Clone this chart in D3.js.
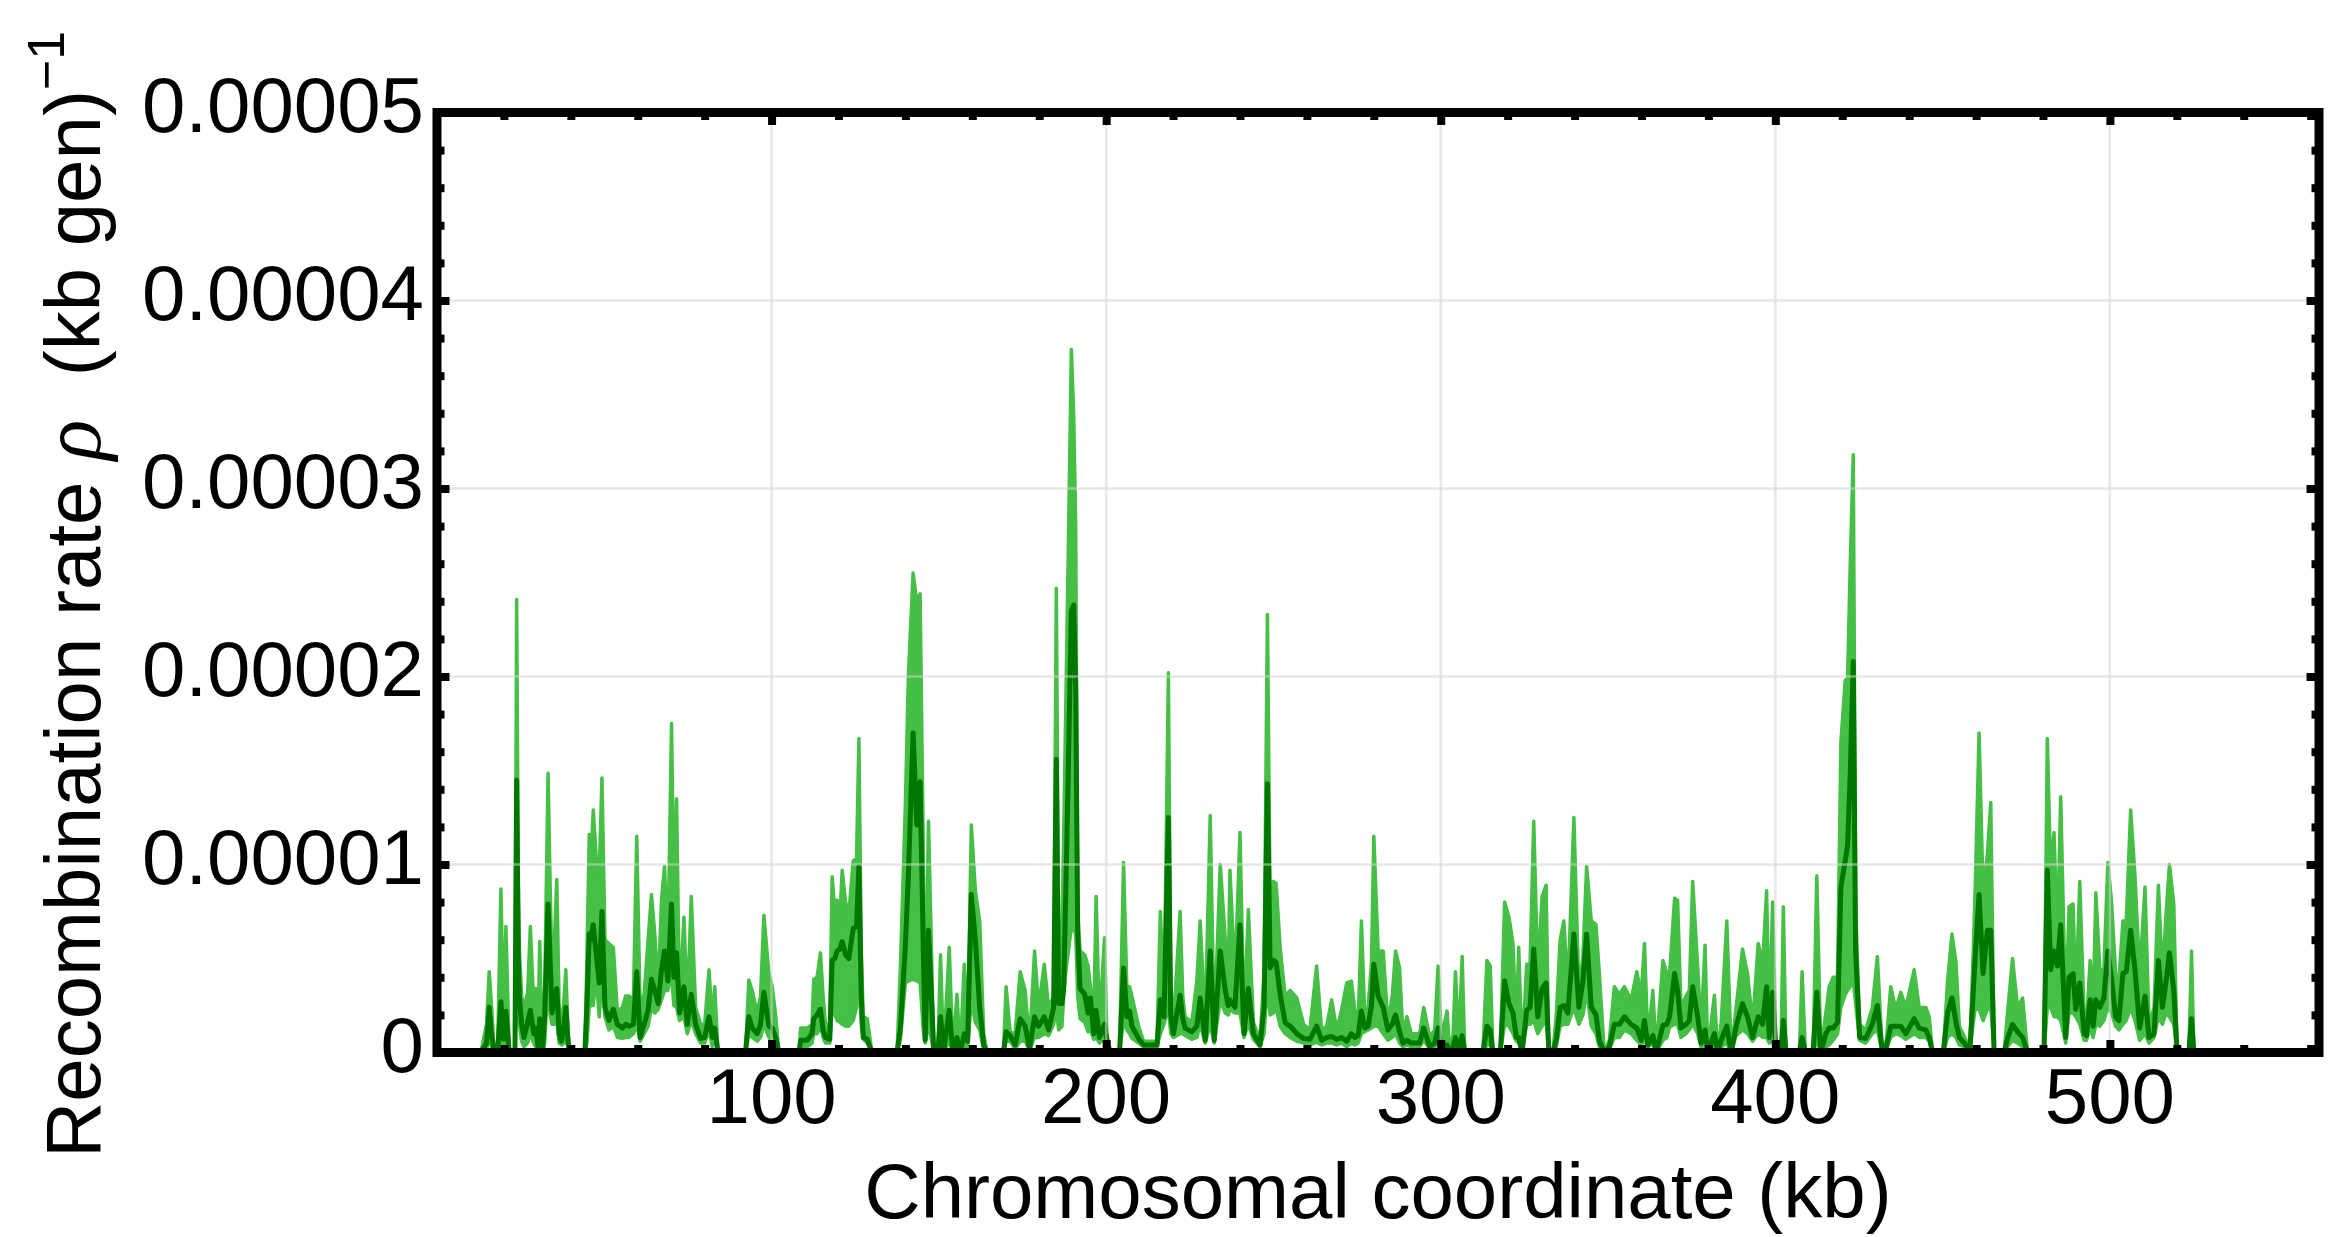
<!DOCTYPE html>
<html>
<head>
<meta charset="utf-8">
<script src="https://cdn.jsdelivr.net/npm/d3@7"></script>
<style>
  body { margin: 0; background: #fff; }
  text { font-family: "Liberation Sans", Arial, sans-serif; fill: #000; }
</style>
</head>
<body>
<svg id="chart" width="2343" height="1237"></svg>
<script>
// chromosomal coordinate (kb) of each estimate
const positionKb = [
  13.1, 14.8, 15.6, 16.3, 17.1, 18.1, 19.1, 19.9, 20.6, 21.6,
  23.3, 23.8, 24.3, 24.6, 25.3, 26.0, 27.1, 27.9, 28.9, 29.5,
  30.2, 30.7, 31.5, 32.2, 33.2, 33.8, 34.4, 35.0, 35.8, 36.5,
  37.2, 38.0, 38.5, 39.2, 39.8, 44.2, 44.8, 45.5, 46.0, 46.7,
  47.5, 48.5, 49.3, 50.2, 51.4, 52.7, 53.9, 55.4, 56.4, 57.4,
  58.7, 59.7, 60.7, 61.9, 63.1, 64.1, 65.1, 66.1, 67.1, 68.0,
  69.0, 70.1, 70.8, 71.6, 72.5, 73.8, 74.8, 76.0, 77.3, 78.8,
  80.0, 81.3, 82.3, 83.0, 84.0, 92.2, 93.2, 94.2, 95.7, 96.7,
  97.7, 99.2, 100.2, 101.2, 102.2,
  108.2, 108.7, 110.6, 112.1, 112.6, 113.6, 114.6, 115.4, 116.1, 117.4,
  118.1, 118.9, 119.6, 120.4, 121.1, 122.1, 123.1, 124.4, 125.4, 126.1,
  126.8, 127.4, 128.6, 130.0, 137.5, 138.5, 140.0, 140.9, 142.3, 143.4,
  144.4, 145.3, 145.9, 146.9, 148.5, 149.7, 150.5, 151.4, 153.1, 154.2,
  155.4, 156.4, 157.6, 158.6, 159.7, 160.9, 162.2, 163.4, 164.4, 169.3,
  170.1, 171.3, 172.8, 174.3, 175.8, 177.1, 178.6, 179.8, 181.5, 182.8,
  184.3, 185.1, 185.8, 186.8, 187.3, 188.0, 188.6, 189.6, 190.3, 190.9,
  191.5, 192.2, 193.6, 194.6, 195.3, 196.3, 197.0, 198.0, 199.5, 200.2,
  201.2, 204.0, 205.2, 206.2, 207.0, 207.7, 209.7, 211.2, 215.2, 216.2,
  217.3, 218.6, 219.3, 220.1, 222.1, 222.9, 223.6, 225.6, 227.1, 228.1,
  229.6, 231.1, 232.3, 234.1, 235.6, 236.5, 237.0, 238.5, 240.0, 241.2,
  242.5, 244.0, 246.0, 247.2, 248.2, 249.0, 250.0, 250.8, 252.0, 253.5,
  255.0, 257.0, 259.0, 260.9, 262.9, 264.4, 265.9, 267.4, 268.9, 270.4,
  271.9,
  273.3, 274.3, 275.3, 276.3, 277.3, 278.3, 279.3, 280.0, 281.3, 282.8,
  284.2, 285.5, 286.5, 287.7, 288.7, 289.9, 291.2, 293.7, 294.9, 296.7,
  298.2, 299.2, 300.2, 301.9, 302.7, 303.7, 304.4, 305.4, 306.4, 307.2,
  312.6, 313.8, 314.8, 315.6, 317.8, 319.1, 320.4, 321.6, 322.6, 323.3,
  324.3, 325.7, 326.7, 327.8, 329.0, 330.3, 331.5, 332.3, 333.5, 334.5,
  335.7, 336.8, 338.0, 339.8, 341.3, 342.5, 343.6, 345.0, 346.4, 347.4,
  348.9, 350.4, 351.9, 353.4, 354.9, 356.9, 358.6, 359.9, 360.9, 361.9,
  363.4, 364.4, 366.4, 367.6, 368.4, 369.9, 370.8, 371.8, 373.3, 374.3,
  375.3, 376.8, 377.8, 379.0, 379.8, 381.8, 382.8, 383.8, 385.5, 386.8,
  388.3, 390.2, 391.7, 393.2, 394.9, 396.2, 397.4, 398.2, 399.2, 400.2,
  401.7, 402.4, 403.2, 407.2, 408.0, 409.0, 411.3, 412.4, 413.6, 415.1,
  416.1, 417.3, 418.6, 419.6, 420.9, 421.6, 422.4, 423.3, 424.0, 425.2,
  427.0, 429.0, 430.5, 432.0, 433.2, 434.5, 436.0, 437.5, 439.0, 441.5,
  443.0, 445.0, 446.0, 447.0, 450.2, 451.5, 452.8, 454.0, 455.0, 456.9,
  458.1, 459.1, 459.7, 460.9, 462.1, 463.4, 464.4, 465.4, 468.4, 469.4,
  470.9, 472.4, 473.9, 475.4, 480.3, 481.3, 482.3, 483.3, 484.3, 485.3,
  486.8, 487.8, 489.0, 489.8, 491.0, 492.3, 493.0, 494.1, 495.0, 495.8,
  497.0, 498.2, 499.4, 500.5, 501.7, 502.7, 503.9, 504.9, 506.2, 507.5,
  508.9, 510.5, 511.7, 513.2, 514.5, 515.7, 516.8, 517.8, 519.1, 520.1,
  523.6, 524.4, 525.1, 527.0
];

// rates below are in units of 1e-6 (kb gen)^-1
const lowerRate = [
  0, 0.2, 0.65, 0.3, 0, 0, 0.8, 0.3, 0.6, 0,
  0, 4, 2.5, 1.5, 0.6, 0.3, 0.5, 1.0, 0.5, 0.3,
  0.1, 0.3, 0, 0.5, 4.2, 2.0, 1.5, 1.5, 1.7, 0.5,
  0.4, 0.5, 0.8, 0.2, 0, 0, 0.5, 2.4, 2.5, 2.5,
  4.2, 1.9, 4.2, 1.9, 1.2, 1.4, 0.8, 0.75, 0.8, 0.8,
  1.0, 1.5, 0.6, 1.0, 1.4, 2.4, 2.1, 2.3, 2.8, 3.3,
  3.3, 4.2, 2.5, 2.4, 1.7, 1.9, 1.0, 1.7, 1.0, 0.5,
  0.5, 1.2, 0.3, 0.8, 0, 0, 1.0, 0.8, 0.6, 0.8,
  1.5, 0.8, 0.6, 0.3, 0,
  0, 0.3, 0.3, 0.5, 1.0, 1.0, 1.4, 0.8, 0.5, 0.5,
  2.4, 2.0, 1.7, 1.6, 1.5, 1.4, 1.4, 1.7, 2.4, 4.2,
  1.5, 0.7, 0.5, 0, 0, 0.7, 3.7, 3.8, 3.9, 3.8,
  3.7, 1.3, 0.5, 1.5, 0, 0, 0.3, 0, 0.6, 0,
  0.2, 0, 0.3, 0.2, 2.8, 1.6, 1.2, 0.1, 0, 0,
  0.6, 0.6, 0.2, 0.6, 0.6, 0.1, 0.8, 0.8, 1.0, 0.9,
  1.5, 2.4, 1.2, 1.4, 3.0, 4.4, 5.2, 6.7, 6.5, 6.3,
  3.0, 1.8, 1.6, 1.1, 1.2, 0.7, 0.8, 0.5, 0.8, 0.3,
  0, 0, 1.7, 1.2, 1.0, 0.75, 0.5, 0.3, 0.3, 1.0,
  1.5, 2.4, 1.0, 0.8, 1.0, 1.0, 0.9, 0.7, 0.8, 1.5,
  0.5, 1.5, 0.5, 2.8, 2.1, 2.0, 2.3, 2.1, 2.1, 0.8,
  1.5, 0.7, 0.3, 1.0, 3.7, 2.0, 2.1, 2.4, 1.4, 1.0,
  0.8, 0.6, 0.5, 0.4, 0.55, 0.4, 0.5, 0.5, 0.4, 0.5,
  0.3,
  0.5, 0.4, 0.5, 1.0, 1.1, 1.2, 1.3, 1.4, 1.4, 1.0,
  0.65, 0.8, 1.0, 0.5, 0.3, 0.4, 0.3, 0.3, 0.65, 0.2,
  0.3, 0.5, 0.2, 0.2, 0, 0.1, 0.3, 0.1, 0.2, 0,
  0, 0.4, 0.4, 0, 0, 1.5, 1.4, 1.0, 0.6, 0.5,
  0, 1.5, 1.5, 1.7, 1.0, 1.4, 1.7, 0, 0, 0.3,
  1.4, 1.5, 1.5, 2.4, 1.5, 2.0, 3.3, 1.4, 1.0, 0.3,
  0, 0.2, 0.8, 0.8, 1.2, 1.0, 0.65, 0.4, 0.65, 0.3,
  0.5, 0, 0.65, 0.8, 1.35, 1.5, 1.5, 0.8, 1.0, 1.2,
  1.5, 1.0, 0.3, 0.4, 0, 0.3, 0, 0.3, 0.5, 0,
  0.9, 1.2, 1.0, 0.6, 1.0, 0.8, 0.8, 0.5, 0.65, 0,
  0, 0.4, 0, 0, 0.3, 0, 0, 0.65, 0, 0.3,
  0.4, 0.65, 1.0, 2.4, 3.1, 3.3, 3.5, 3.8, 2.6, 0.65,
  0.5, 1.0, 1.2, 0, 0.2, 0.8, 1.0, 0.9, 0.7, 1.0,
  0.8, 0.8, 0.6, 0, 0, 0.8, 1.0, 0.8, 0.4, 0.3,
  0, 1.5, 2.3, 2.3, 1.7, 2.3, 2.4, 0, 0, 0.3,
  0.65, 0.5, 0.3, 0, 0, 2.4, 2.4, 1.9, 1.9, 1.7,
  0.5, 2.1, 2.1, 1.9, 1.5, 0.65, 0.65, 1.3, 0.8, 1.5,
  1.4, 1.7, 2.4, 2.1, 1.4, 1.2, 1.5, 1.7, 2.4, 1.7,
  0.65, 1.0, 0.5, 0.8, 1.9, 1.5, 2.1, 1.9, 1.5, 0,
  0, 0.3, 0, 0
];

const meanRate = [
  0, 0.5, 2.4, 1.0, 0, 0, 2.7, 0.7, 2.2, 0,
  0, 14.5, 5.0, 3.0, 1.5, 0.8, 1.6, 2.25, 1.0, 1.3,
  0.3, 1.8, 0, 2.0, 7.9, 5.0, 2.1, 3.0, 3.4, 1.0,
  0.6, 1.5, 2.4, 0.5, 0, 0, 2.5, 6.3, 6.0, 6.8,
  5.4, 3.7, 7.5, 2.4, 1.7, 2.3, 1.5, 1.3, 1.5, 1.4,
  1.5, 4.3, 0.8, 1.5, 2.25, 3.9, 3.3, 2.6, 4.4, 5.4,
  3.8, 7.9, 4.0, 5.3, 2.1, 3.5, 1.5, 3.1, 1.5, 0.75,
  0.8, 1.9, 0.8, 1.3, 0, 0, 1.9, 1.3, 1.0, 1.5,
  3.2, 1.4, 1.3, 0.8, 0,
  0, 0.65, 0.65, 1.0, 1.8, 2.0, 2.3, 1.2, 0.8, 0.7,
  4.9, 5.0, 5.4, 5.5, 5.9, 5.2, 5.0, 6.6, 6.7, 9.9,
  3.0, 0.8, 0.7, 0, 0, 1.3, 5.7, 9.5, 17.0, 12.1,
  14.4, 6.0, 0.65, 6.5, 0, 0, 1.9, 0, 2.25, 0,
  0.8, 0, 1.0, 0.6, 8.4, 6.0, 2.4, 0.4, 0, 0,
  1.1, 0.9, 0.4, 1.8, 1.4, 0.2, 1.9, 1.4, 1.9, 1.2,
  2.4, 15.6, 2.6, 2.6, 3.4, 9.1, 14.2, 23.5, 23.8, 19.4,
  6.3, 3.4, 3.1, 2.1, 2.9, 1.0, 2.25, 0.8, 1.5, 0.65,
  0, 0, 4.5, 1.9, 2.2, 1.4, 0.75, 0.4, 0.4, 2.8,
  1.9, 12.5, 2.0, 1.0, 3.05, 1.8, 1.3, 1.1, 1.4, 2.9,
  0.65, 5.4, 0.65, 5.4, 3.3, 2.5, 2.8, 2.4, 6.8, 1.0,
  3.4, 1.0, 0.4, 2.4, 14.3, 4.5, 4.9, 4.8, 3.1, 1.6,
  1.4, 1.0, 0.75, 0.7, 1.4, 0.65, 0.8, 0.85, 0.7, 0.8,
  0.6,
  1.0, 0.8, 0.9, 2.2, 1.3, 1.4, 2.5, 4.7, 3.0, 2.4,
  1.2, 1.5, 2.0, 1.1, 0.5, 0.65, 0.5, 0.5, 1.3, 0.3,
  0.5, 1.3, 0.3, 0.4, 0, 0.3, 0.8, 0.2, 0.9, 0,
  0, 1.4, 1.2, 0, 0, 3.8, 2.6, 2.1, 0.8, 0.8,
  0, 2.25, 2.4, 5.5, 1.9, 3.4, 3.7, 0, 0, 0.65,
  2.4, 2.5, 2.1, 6.3, 2.4, 3.8, 6.3, 2.4, 2.0, 0.65,
  0, 0.3, 1.5, 1.5, 1.9, 1.5, 1.3, 0.65, 1.7, 0.4,
  0.9, 0, 1.45, 1.5, 1.9, 4.2, 3.3, 1.3, 1.5, 1.7,
  3.5, 1.9, 0.5, 1.2, 0, 1.0, 0, 0.65, 1.4, 0,
  1.4, 2.6, 1.9, 0.8, 1.9, 1.5, 3.5, 0.8, 3.2, 0,
  0, 1.7, 0, 0, 0.8, 0, 0, 3.2, 0, 1.0,
  1.3, 1.3, 1.6, 8.8, 10.2, 11.0, 14.9, 20.8, 5.4, 0.8,
  0.75, 1.5, 2.5, 0, 0.3, 1.4, 1.4, 1.4, 1.0, 1.8,
  1.3, 1.2, 0.8, 0, 0, 2.1, 2.9, 1.6, 0.8, 0.4,
  0, 3.0, 5.0, 8.4, 4.2, 6.5, 6.5, 0, 0, 0.75,
  1.5, 1.1, 0.8, 0, 0, 9.7, 4.4, 5.4, 4.6, 6.8,
  0.8, 4.0, 4.2, 2.3, 3.7, 1.0, 0.9, 2.8, 1.4, 2.8,
  2.4, 2.9, 5.4, 3.9, 1.9, 1.7, 4.2, 4.3, 6.5, 4.4,
  1.3, 3.0, 0.8, 1.0, 4.9, 2.4, 3.8, 5.3, 3.3, 0,
  0, 1.8, 0, 0
];

const upperRate = [
  0, 1.5, 4.3, 2.5, 0, 0, 8.7, 1.5, 6.7, 0,
  0, 24.1, 9.0, 5.5, 3.0, 2.4, 3.2, 6.7, 2.5, 3.4,
  1.0, 5.9, 0, 3.5, 14.85, 9.0, 4.0, 5.5, 9.2, 2.5,
  1.2, 3.0, 4.4, 1.0, 0, 0, 5.0, 11.6, 10.0, 12.9,
  10.6, 9.5, 14.6, 6.0, 5.8, 5.6, 2.2, 2.4, 3.0, 3.0,
  2.8, 11.5, 2.4, 3.1, 6.0, 8.4, 6.3, 3.3, 8.1, 9.9,
  5.5, 17.5, 8.0, 13.5, 2.4, 7.2, 2.4, 8.3, 2.4, 1.5,
  1.5, 4.4, 1.5, 3.5, 0, 0, 3.85, 3.3, 2.1, 3.0,
  7.3, 4.2, 3.5, 2.0, 0,
  0, 1.3, 1.3, 1.5, 3.9, 4.0, 5.3, 3.0, 1.5, 1.5,
  9.35, 7.5, 8.1, 7.0, 9.7, 8.0, 7.4, 10.2, 10.3, 16.7,
  5.5, 1.9, 1.8, 0, 0, 4.5, 13.3, 20.1, 25.5, 24.0,
  24.4, 11.3, 1.3, 12.3, 0, 0, 5.2, 0, 5.6, 0,
  3.1, 0, 4.7, 1.0, 12.1, 8.6, 7.0, 1.0, 0, 0,
  3.5, 1.1, 1.0, 4.3, 3.3, 0.5, 5.4, 2.4, 4.7, 2.4,
  3.0, 24.7, 6.0, 6.5, 11.6, 19.1, 25.8, 37.4, 33.9, 28.0,
  7.5, 5.4, 5.2, 4.6, 3.5, 1.9, 8.3, 1.5, 6.1, 1.0,
  0, 0, 10.1, 3.3, 3.5, 3.0, 1.4, 0.6, 0.6, 7.5,
  2.4, 20.2, 3.5, 1.5, 7.5, 3.0, 1.9, 1.6, 3.8, 7.0,
  1.5, 12.6, 1.2, 10.0, 6.0, 4.0, 9.7, 4.0, 11.7, 1.6,
  7.6, 1.6, 0.7, 4.2, 23.3, 8.0, 9.1, 9.0, 5.6, 3.0,
  3.3, 2.9, 1.5, 1.2, 4.6, 1.2, 1.4, 2.8, 1.2, 2.3,
  3.7,
  3.8, 2.3, 1.5, 7.0, 1.8, 2.4, 4.8, 11.5, 5.4, 5.4,
  1.55, 3.0, 5.4, 4.5, 1.0, 1.9, 1.0, 1.0, 2.4, 0.85,
  1.2, 4.6, 0.8, 2.2, 0, 1.0, 4.3, 0.5, 5.1, 0,
  0, 4.9, 4.6, 0, 0, 8.0, 7.2, 5.8, 1.2, 5.6,
  0, 4.7, 4.7, 12.3, 4.2, 8.3, 8.9, 0, 0, 1.9,
  6.0, 7.0, 3.3, 12.5, 3.3, 5.1, 9.9, 7.0, 6.8, 4.2,
  0, 0.65, 3.5, 3.1, 3.5, 2.8, 4.3, 3.0, 5.8, 0.65,
  3.3, 0, 4.9, 4.2, 4.2, 8.2, 8.1, 2.4, 3.0, 3.3,
  9.1, 4.6, 1.2, 5.7, 0, 3.05, 0, 1.5, 7.0, 0,
  2.4, 5.5, 4.2, 1.5, 5.8, 4.7, 8.6, 1.4, 8.0, 0,
  0, 7.75, 0, 0, 4.3, 0, 0, 9.4, 0, 2.1,
  3.5, 4.0, 4.0, 16.5, 19.8, 19.9, 26.0, 31.8, 7.8, 1.5,
  1.2, 2.4, 5.1, 0, 0.65, 3.5, 2.3, 3.2, 2.4, 4.4,
  2.4, 2.4, 1.9, 0, 0, 3.85, 6.3, 4.8, 1.4, 0.7,
  0, 5.0, 8.5, 17.0, 8.5, 10.6, 13.3, 0, 0, 2.1,
  5.0, 2.4, 2.9, 0, 0, 16.7, 9.5, 11.7, 6.0, 13.6,
  1.9, 7.75, 7.9, 2.8, 9.1, 1.9, 1.5, 4.9, 2.4, 8.5,
  4.4, 4.4, 10.1, 8.0, 4.2, 3.8, 7.0, 7.0, 12.9, 9.4,
  4.2, 8.8, 1.5, 2.4, 8.9, 4.0, 7.4, 10.0, 7.9, 0,
  0, 5.4, 0, 0
];

const rateUnit = 1e-6;
const xTickValues = [100, 200, 300, 400, 500];
const yTickValues = [0, 0.00001, 0.00002, 0.00003, 0.00004, 0.00005];
const yTickLabels = ["0", "0.00001", "0.00002", "0.00003", "0.00004", "0.00005"];

const svg = d3.select("#chart");
svg.append("rect").attr("width", 2343).attr("height", 1237).attr("fill", "#fff");

const plotLeft = 437, plotRight = 2319, plotTop = 112.5, plotBottom = 1052.5;

const x = d3.scaleLinear().domain([0, 562.5]).range([plotLeft, plotRight]);
const y = d3.scaleLinear().domain([0, 0.00005]).range([plotBottom, plotTop]);

const n = Math.min(positionKb.length, lowerRate.length, meanRate.length, upperRate.length);
const data = d3.range(n).map(i => ({
    kb: positionKb[i],
    lo: lowerRate[i] * rateUnit,
    mid: meanRate[i] * rateUnit,
    hi: upperRate[i] * rateUnit
}));

const light = "#45bf45";
const dark = "#007800";

svg.append("clipPath").attr("id", "plot-clip")
    .append("rect")
    .attr("x", plotLeft).attr("y", plotTop)
    .attr("width", plotRight - plotLeft).attr("height", plotBottom - plotTop);

const plot = svg.append("g").attr("clip-path", "url(#plot-clip)");

// confidence band
plot.append("path")
    .datum(data)
    .attr("fill", light)
    .attr("d", d3.area().x(d => x(d.kb)).y0(d => y(d.lo)).y1(d => y(d.hi)));

["hi", "lo"].forEach(k => {
    plot.append("path")
        .datum(data)
        .attr("fill", "none")
        .attr("stroke", light)
        .attr("stroke-width", 3.5)
        .attr("stroke-linejoin", "round")
        .attr("d", d3.line().x(d => x(d.kb)).y(d => y(d[k])));
});

// mean estimate
plot.append("path")
    .datum(data)
    .attr("fill", "none")
    .attr("stroke", dark)
    .attr("stroke-width", 5)
    .attr("stroke-linejoin", "round")
    .attr("d", d3.line().x(d => x(d.kb)).y(d => y(d.mid)));

// grid lines (drawn over the data, faint)
const grid = svg.append("g")
    .attr("stroke", "#d4d4d4")
    .attr("stroke-opacity", 0.55)
    .attr("stroke-width", 2.5);
grid.selectAll(".gx").data(xTickValues).enter().append("line")
    .attr("x1", d => x(d)).attr("x2", d => x(d))
    .attr("y1", plotTop).attr("y2", plotBottom);
grid.selectAll(".gy").data(yTickValues.slice(1, -1)).enter().append("line")
    .attr("x1", plotLeft).attr("x2", plotRight)
    .attr("y1", d => y(d)).attr("y2", d => y(d));

// ticks on all four sides of the frame
const xMinor = d3.range(20, 561, 20).filter(d => d % 100 !== 0);
const yMinor = d3.range(1, 25).filter(i => i % 5 !== 0).map(i => i * 2e-6);
const majorLen = 12.5, minorLen = 7.5;

function styleTicks(g) {
    g.select(".domain").remove();
    g.selectAll("line").attr("stroke", "#000").attr("stroke-width", 8);
    g.selectAll("text").remove();
}

const axes = [
    [d3.axisTop, x, `translate(0,${plotBottom})`, xTickValues, xMinor],
    [d3.axisBottom, x, `translate(0,${plotTop})`, xTickValues, xMinor],
    [d3.axisRight, y, `translate(${plotLeft},0)`, yTickValues, yMinor],
    [d3.axisLeft, y, `translate(${plotRight},0)`, yTickValues, yMinor]
];
axes.forEach(([axisFn, scale, tr, major, minor]) => {
    svg.append("g").attr("transform", tr)
        .call(axisFn(scale).tickValues(minor).tickSize(minorLen).tickFormat(""))
        .call(styleTicks);
    svg.append("g").attr("transform", tr)
        .call(axisFn(scale).tickValues(major).tickSize(majorLen).tickFormat(""))
        .call(styleTicks);
});

// frame
svg.append("rect")
    .attr("x", plotLeft).attr("y", plotTop)
    .attr("width", plotRight - plotLeft).attr("height", plotBottom - plotTop)
    .attr("fill", "none")
    .attr("stroke", "#000")
    .attr("stroke-width", 9);

// tick labels
svg.selectAll(".ylab").data(yTickValues).enter().append("text")
    .attr("x", 424)
    .attr("y", d => y(d) + 19)
    .attr("text-anchor", "end")
    .attr("font-size", 78)
    .text((d, i) => yTickLabels[i]);

svg.selectAll(".xlab").data(xTickValues).enter().append("text")
    .attr("x", d => x(d))
    .attr("y", 1123)
    .attr("text-anchor", "middle")
    .attr("font-size", 78)
    .text(d => d);

// axis titles
svg.append("text")
    .attr("x", (plotLeft + plotRight) / 2)
    .attr("y", 1218)
    .attr("text-anchor", "middle")
    .attr("font-size", 78)
    .text("Chromosomal coordinate (kb)");

const yTitle = svg.append("text")
    .attr("transform", "translate(100,1158) rotate(-90)")
    .attr("font-size", 78);
yTitle.append("tspan").text("Recombination rate ");
yTitle.append("tspan")
    .style("font-family", "'Liberation Serif', serif")
    .style("font-style", "italic")
    .attr("font-size", 84)
    .text("\u03c1");
yTitle.append("tspan").text("\u00a0\u00a0(kb gen)");
yTitle.append("tspan")
    .attr("font-size", 52)
    .attr("dy", -36)
    .text("\u22121");
</script>
</body>
</html>
